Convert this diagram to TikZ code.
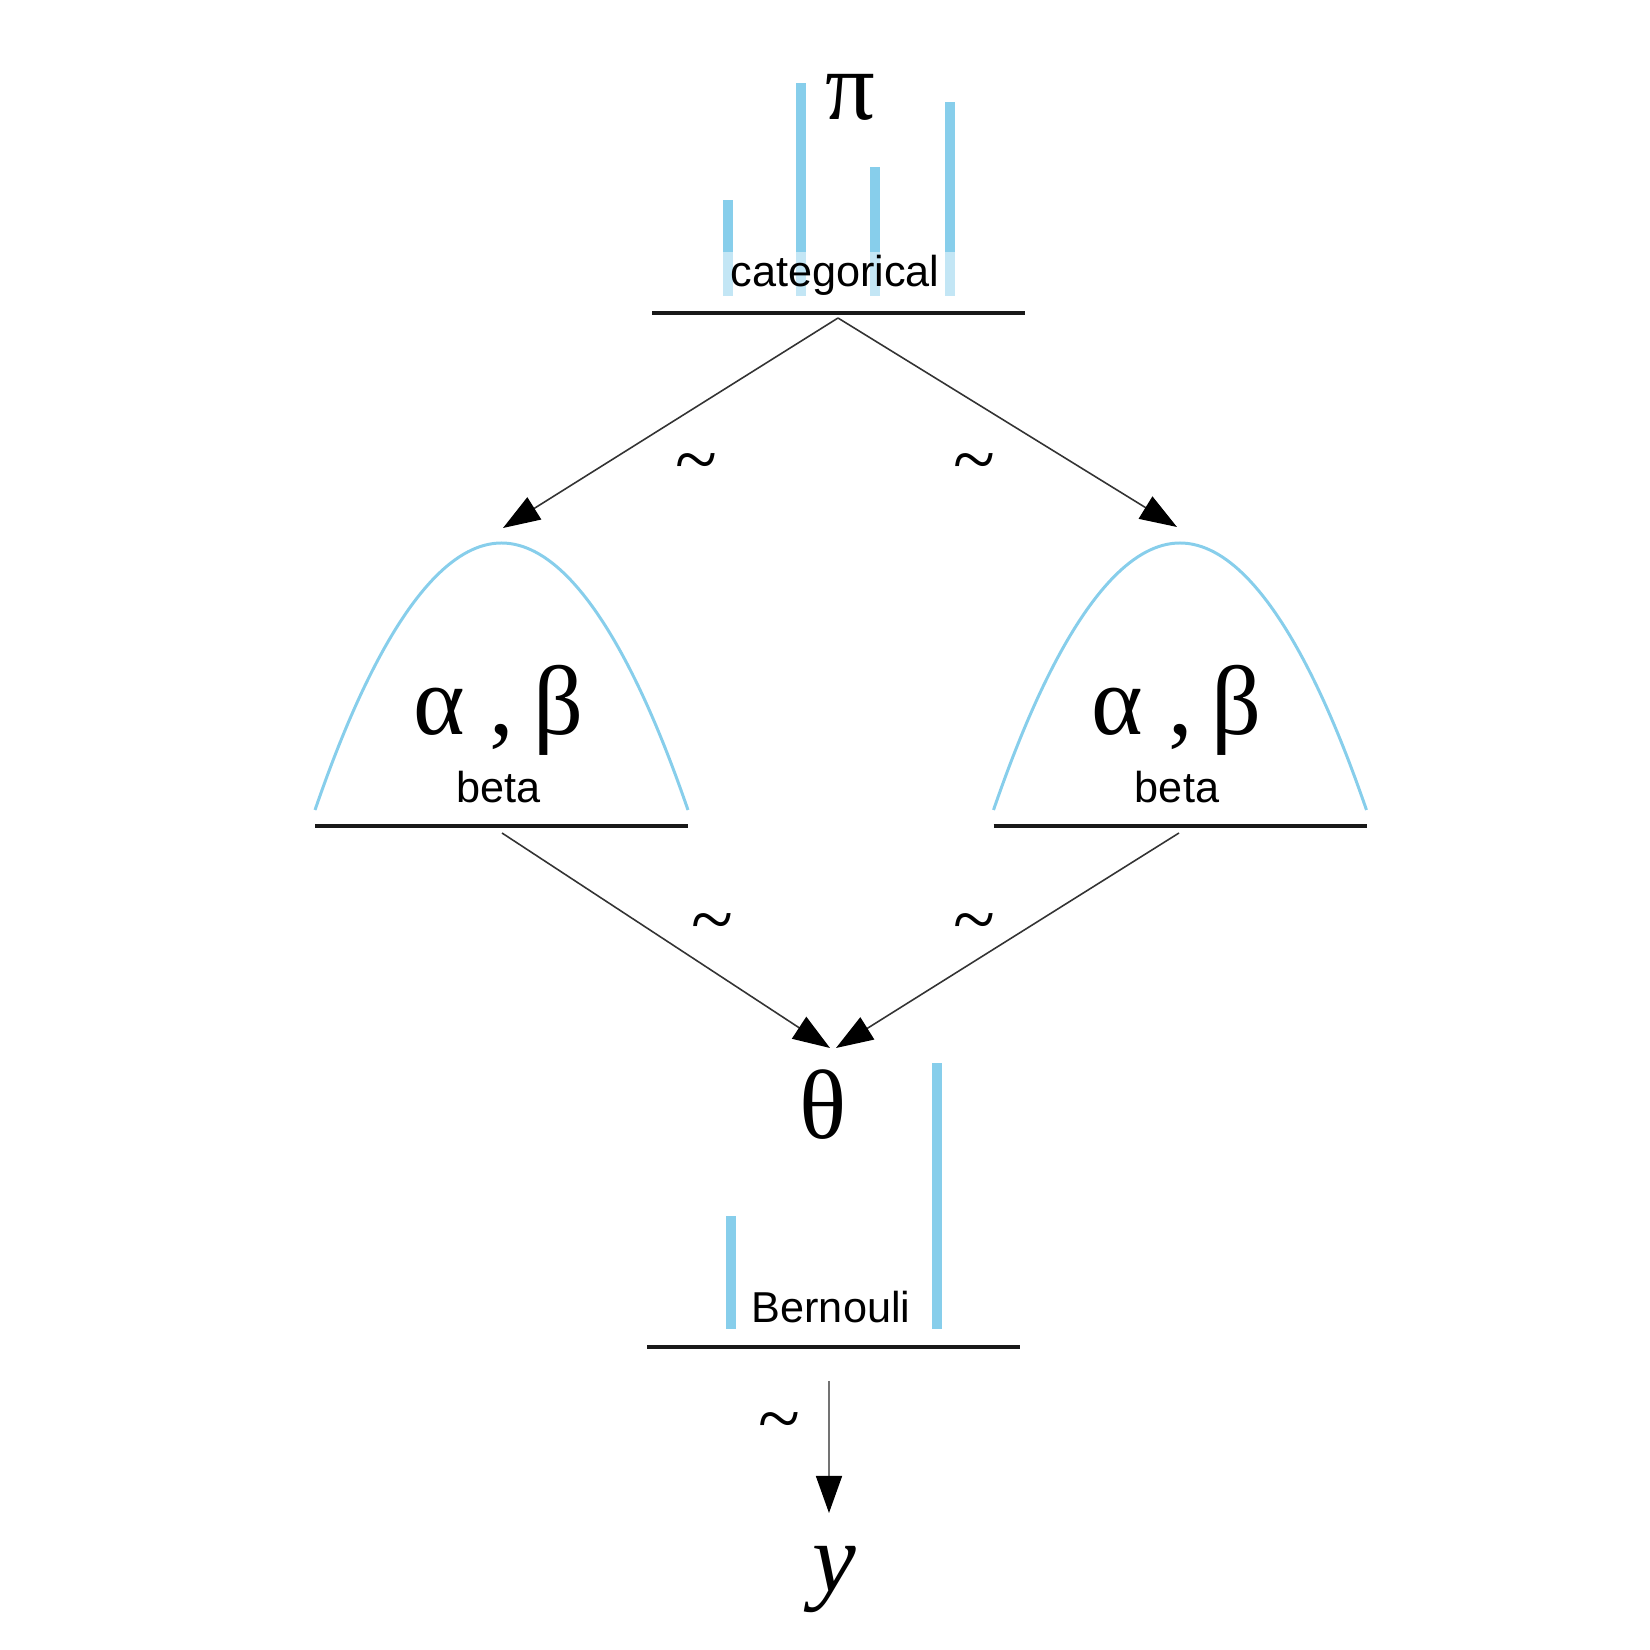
\documentclass[tikz,border=0pt]{standalone}
\usepackage{fontspec}
\setmainfont{Liberation Sans}
\newfontfamily\greek{Liberation Serif}
\usetikzlibrary{arrows.meta}
\definecolor{skyb}{RGB}{135,206,235}

\begin{document}
\begin{tikzpicture}[
	bar/.style={skyb, line width=2.9pt},
	dens/.style={skyb, line width=.85pt},
	base/.style={black!90, line width=.9pt},
	arr/.style={black!80, line width=.45pt, -{Triangle[length=3.7mm,width=2.6mm,black]}},
	sym/.style={font=\greek\fontsize{28}{30}\selectfont, inner sep=0pt},
	tl/.style={font=\greek\fontsize{22}{24}\selectfont, inner sep=0pt},
	lbl/.style={font=\fontsize{12.3}{14}\selectfont, inner sep=0pt, anchor=base}
	]
	\useasboundingbox (0,0) rectangle (16.5,16.5);
	
	% categorical
	\foreach \x/\h in {7.28/14.50, 8.01/15.67, 8.75/14.83, 9.50/15.48}
		\draw[bar] (\x,13.54) -- (\x,\h);
	\node[lbl, fill=white, fill opacity=.5, text opacity=1, minimum width=2.5cm, inner ysep=1pt] (cat) at (8.35,13.63) {categorical};
	\node[sym] (pi) at (8.50,15.53) {π};
	\draw[base] (6.52,13.37) -- (10.25,13.37);
	
	% beta, beta
	\foreach \c/\n in {5.015/L, 11.80/R}{
		\draw[dens] (\c-1.865,8.40) parabola bend (\c,11.07) (\c+1.865,8.40);
		\draw[base] (\c-1.865,8.24) -- (\c+1.865,8.24);
		\node[sym] (ab\n) at (\c-.03,9.40) {α ,\hspace{-1.5pt} β};
		\node[lbl] (beta\n) at (\c-.03,8.47) {beta};
	}
	
	% Bernouli
	\draw[bar] (7.31,3.21) -- (7.31,4.34);
	\draw[bar] (9.37,3.21) -- (9.37,5.87);
	\node[lbl] (bern) at (8.31,3.27) {Bernouli};
	\node[sym] (theta) at (8.23,5.45) {θ};
	\draw[base] (6.47,3.03) -- (10.20,3.03);
	
	\node[sym, font=\greek\itshape\fontsize{28}{30}\selectfont] (y) at (8.34,0.70) {y};
	
	\coordinate (catsrc) at (8.38,13.32);
	\coordinate (tipL) at (5.03,11.22);
	\coordinate (tipR) at (11.77,11.23);
	\coordinate (srcL) at (5.02,8.17);
	\coordinate (srcR) at (11.79,8.17);
	\coordinate (thL) at (8.30,6.02);
	\coordinate (thR) at (8.36,6.02);
	\coordinate (bernsrc) at (8.29,2.69);
	\coordinate (ytip) at (8.29,1.37);
	
	\draw[arr] (catsrc) -- (tipL);
	\draw[arr] (catsrc) -- (tipR);
	\draw[arr] (srcL) -- (thL);
	\draw[arr] (srcR) -- (thR);
	\draw[arr, black!55] (bernsrc) -- (ytip);
	
	\node[tl] (tA) at (6.96,11.80) {\textasciitilde};
	\node[tl] (tB) at (9.74,11.80) {\textasciitilde};
	\node[tl] (tC) at (7.12,7.20) {\textasciitilde};
	\node[tl] (tD) at (9.74,7.20) {\textasciitilde};
	\node[tl] (tE) at (7.79,2.21) {\textasciitilde};
	
\end{tikzpicture}
\end{document}
